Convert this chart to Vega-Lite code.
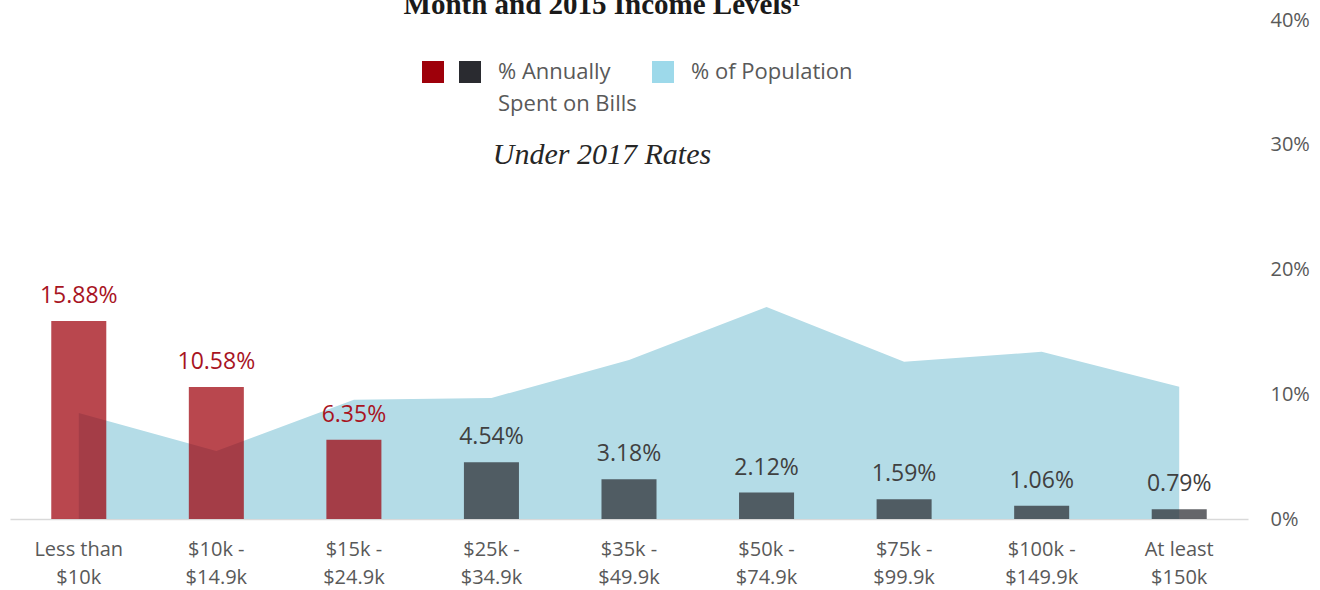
{
  "$schema": "https://vega.github.io/schema/vega-lite/v6.json",
  "width": 1238,
  "height": 499,
  "autosize": {"type": "none"},
  "padding": {"left": 10, "top": 20, "right": 72, "bottom": 71},
  "background": "white",
  "title": {
    "text": "Month and 2015 Income Levels¹",
    "subtitle": "Under 2017 Rates",
    "anchor": "middle",
    "dx": -27,
    "offset": -160,
    "font": "Liberation Serif",
    "fontWeight": "bold",
    "fontSize": 29,
    "color": "#1a1a1a",
    "subtitleFont": "Liberation Serif",
    "subtitleFontStyle": "italic",
    "subtitleFontSize": 30,
    "subtitleColor": "#262626",
    "subtitlePadding": 120
  },
  "config": {
    "view": {"stroke": null},
    "font": "Open Sans",
    "legend": {
      "orient": "none",
      "legendX": 412,
      "legendY": 41,
      "direction": "horizontal",
      "columns": 3,
      "symbolType": "square",
      "symbolSize": 484,
      "symbolStrokeWidth": 0,
      "symbolOpacity": 1,
      "labelFont": "Open Sans",
      "labelFontSize": 22,
      "labelColor": "#595959",
      "labelOffset": 17,
      "labelLimit": 400,
      "columnPadding": 15,
      "padding": 0
    }
  },
  "data": {
    "values": [
      {"cat": "Less than|$10k", "bills": 0.1588, "pop": 0.085, "grp": "A"},
      {"cat": "$10k -|$14.9k", "bills": 0.1058, "pop": 0.0545, "grp": "A"},
      {"cat": "$15k -|$24.9k", "bills": 0.0635, "pop": 0.0955, "grp": "A"},
      {"cat": "$25k -|$34.9k", "bills": 0.0454, "pop": 0.097, "grp": "B"},
      {"cat": "$35k -|$49.9k", "bills": 0.0318, "pop": 0.1275, "grp": "B"},
      {"cat": "$50k -|$74.9k", "bills": 0.0212, "pop": 0.17, "grp": "B"},
      {"cat": "$75k -|$99.9k", "bills": 0.0159, "pop": 0.126, "grp": "B"},
      {"cat": "$100k -|$149.9k", "bills": 0.0106, "pop": 0.134, "grp": "B"},
      {"cat": "At least|$150k", "bills": 0.0079, "pop": 0.106, "grp": "B"}
    ]
  },
  "encoding": {
    "x": {
      "field": "cat",
      "type": "nominal",
      "sort": null,
      "scale": {"paddingInner": 0.6, "paddingOuter": 0.3},
      "axis": {
        "title": null,
        "labelAngle": 0,
        "labelExpr": "split(datum.label, '|')",
        "labelFont": "Open Sans",
        "labelFontSize": 20,
        "labelColor": "#595959",
        "labelLineHeight": 28,
        "labelPadding": 20,
        "ticks": false,
        "domain": true,
        "domainColor": "#d9d9d9",
        "domainWidth": 1.5,
        "grid": false
      }
    }
  },
  "layer": [
    {
      "mark": {"type": "area", "color": "#b4dce7", "interpolate": "linear"},
      "encoding": {
        "y": {
          "field": "pop",
          "type": "quantitative",
          "scale": {"domain": [0, 0.4], "nice": false},
          "axis": {
            "orient": "right",
            "title": null,
            "values": [0, 0.1, 0.2, 0.3, 0.4],
            "format": ".0%",
            "labelFont": "Open Sans",
            "labelFontSize": 20,
            "labelColor": "#595959",
            "labelPadding": 22,
            "ticks": false,
            "domain": false,
            "grid": false
          }
        }
      }
    },
    {
      "mark": {"type": "bar", "opacity": 0.72},
      "encoding": {
        "y": {"field": "bills", "type": "quantitative"},
        "color": {
          "field": "grp",
          "type": "nominal",
          "scale": {"domain": ["A", "B", "C"], "range": ["#9e000a", "#2a2b30", "#9dd9ea"]},
          "legend": {
            "title": null,
            "labelExpr": "datum.label == 'A' ? ['', ''] : datum.label == 'B' ? ['% Annually', 'Spent on Bills'] : ['% of Population', '']",
            "encode": {
              "symbols": {"update": {"opacity": {"value": 1}, "fillOpacity": {"value": 1}}},
              "labels": {"update": {"lineHeight": {"value": 32}, "dx": {"signal": "datum.value == 'A' ? -17 : 0"}}}
            }
          }
        }
      }
    },
    {
      "mark": {"type": "text", "baseline": "alphabetic", "dy": -18, "fontSize": 23, "font": "Open Sans"},
      "encoding": {
        "y": {"field": "bills", "type": "quantitative"},
        "text": {"field": "bills", "type": "quantitative", "format": ".2%"},
        "color": {
          "condition": {"test": "datum.grp == 'A'", "value": "#a8141f"},
          "value": "#404040"
        }
      }
    }
  ],
  "resolve": {"scale": {"y": "shared"}}
}
